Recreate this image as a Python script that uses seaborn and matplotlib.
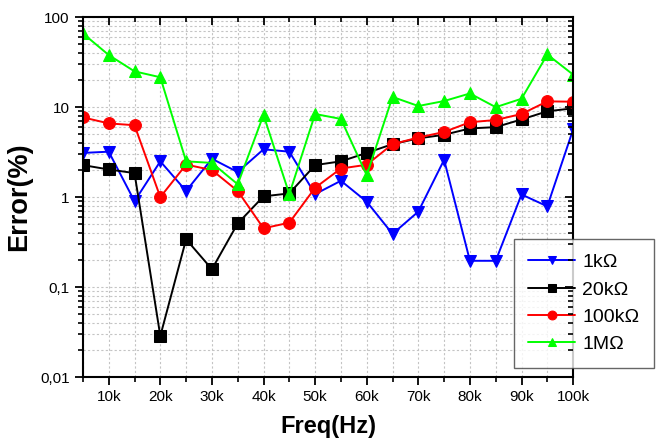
import numpy as np
import pandas as pd
import matplotlib
matplotlib.use("Agg")
import matplotlib.pyplot as plt
import seaborn as sns
from matplotlib.ticker import FixedLocator, LogLocator, NullFormatter

freq_khz = [5, 10, 15, 20, 25, 30, 35, 40, 45, 50, 55, 60, 65, 70, 75, 80, 85, 90, 95, 100]
err_1k = [3.1, 3.2, 0.9, 2.5, 1.17, 2.67, 1.9, 3.4, 3.2, 1.08, 1.52, 0.89, 0.39, 0.69, 2.6, 0.196, 0.196, 1.07, 0.79, 5.65]
err_20k = [2.27, 2.03, 1.85, 0.0286, 0.34, 0.158, 0.51, 1.02, 1.1, 2.27, 2.5, 3.1, 3.88, 4.5, 4.93, 5.8, 6.0, 7.3, 9.0, 9.7]
err_100k = [7.7, 6.6, 6.3, 1.0, 2.3, 2.0, 1.17, 0.45, 0.52, 1.27, 2.08, 2.29, 3.88, 4.6, 5.3, 6.8, 7.2, 8.4, 11.6, 11.5]
err_1M = [66, 38, 25, 21.5, 2.5, 2.4, 1.39, 8.2, 1.08, 8.4, 7.4, 1.75, 13, 10.3, 11.7, 14.2, 10, 12.4, 38.5, 23]
series_names = ["1k\u03a9", "20k\u03a9", "100k\u03a9", "1M\u03a9"]
x_tick_labels = ["10k", "20k", "30k", "40k", "50k", "60k", "70k", "80k", "90k", "100k"]
y_tick_labels = ["0,01", "0,1", "1", "10", "100"]

sns.set_style("white")
plt.rcParams['font.family'] = ['Liberation Sans', 'DejaVu Sans']
plt.rcParams['text.color'] = 'black'
plt.rcParams['axes.labelcolor'] = 'black'
plt.rcParams['xtick.color'] = 'black'
plt.rcParams['ytick.color'] = 'black'

freq_hz = [f * 1000 for f in freq_khz]
df = pd.DataFrame({
    "Freq": freq_hz * 4,
    "Error": err_1k + err_20k + err_100k + err_1M,
    "Series": sum([[n] * len(freq_hz) for n in series_names], []),
})

colors = ["#0000FF", "#000000", "#FF0000", "#00FF00"]
markers = ["v", "s", "o", "^"]

fig = plt.figure(figsize=(6.58, 4.41), dpi=100)
ax = fig.add_axes([0.126, 0.145, 0.745, 0.816])

for name, c, m in zip(series_names, colors, markers):
    sub = df[df["Series"] == name]
    sns.lineplot(data=sub, x="Freq", y="Error", ax=ax, color=c, marker=m,
                 markersize=8.5, markeredgecolor=c, linewidth=1.4, label=name)

ax.set_yscale("log")
ax.set_xlim(5000, 100000)
ax.set_ylim(0.01, 100)

major_x = [10000 * (i + 1) for i in range(10)]
minor_x = [5000 + 10000 * i for i in range(10)]
major_y = [0.01, 0.1, 1, 10, 100]

ax.xaxis.set_major_locator(FixedLocator(major_x))
ax.xaxis.set_minor_locator(FixedLocator(minor_x))
ax.set_xticklabels(x_tick_labels)
ax.yaxis.set_major_locator(FixedLocator(major_y))
ax.set_yticklabels(y_tick_labels)
ax.yaxis.set_minor_locator(LogLocator(base=10, subs=np.arange(2, 10), numticks=20))
ax.yaxis.set_minor_formatter(NullFormatter())

ax.grid(True, which="both", color="#c4c4c4", linestyle=(0, (2, 2)), linewidth=0.8)
ax.set_axisbelow(True)

for s in ax.spines.values():
    s.set_linewidth(1.5)
    s.set_color("black")

ax.tick_params(axis="both", which="major", direction="out", length=6, width=1.3,
               labelsize=11, colors="black", bottom=True, left=True, top=False, right=False)
ax.tick_params(axis="both", which="minor", direction="out", length=3.5, width=1.2,
               bottom=True, left=True, top=False, right=False)

# mirrored inward ticks on top/right
axt = ax.twiny()
axt.set_xlim(ax.get_xlim())
axt.xaxis.set_major_locator(FixedLocator(major_x))
axt.xaxis.set_minor_locator(FixedLocator(minor_x))
axt.tick_params(axis="x", which="major", direction="in", length=6, width=1.3, labeltop=False)
axt.tick_params(axis="x", which="minor", direction="in", length=3.5, width=1.2)
axr = ax.twinx()
axr.set_yscale("log")
axr.set_ylim(ax.get_ylim())
axr.yaxis.set_major_locator(FixedLocator(major_y))
axr.yaxis.set_minor_locator(LogLocator(base=10, subs=np.arange(2, 10), numticks=20))
axr.yaxis.set_minor_formatter(NullFormatter())
axr.tick_params(axis="y", which="major", direction="in", length=6, width=1.3, labelright=False)
axr.tick_params(axis="y", which="minor", direction="in", length=3.5, width=1.2)
for a in (axt, axr):
    for s in a.spines.values():
        s.set_visible(False)
    a.grid(False)

ax.set_xlabel("Freq(Hz)", fontsize=17, fontweight="bold", labelpad=8, color="black")
ax.set_ylabel("Error(%)", fontsize=19.5, fontweight="bold", labelpad=6, color="black")

leg = ax.legend(loc="upper left", bbox_to_anchor=(0.781, 0.458),
                bbox_transform=fig.transFigure, fontsize=14, frameon=True,
                fancybox=False, handlelength=2.4, handletextpad=0.36,
                markerscale=0.75, borderpad=0.75, labelspacing=0.5,
                borderaxespad=0)
leg.get_frame().set_edgecolor("#404040")
leg.get_frame().set_linewidth(1.0)
leg.set_zorder(10)
for t in leg.get_texts():
    t.set_color("black")

fig.savefig("out.png", dpi=100)
